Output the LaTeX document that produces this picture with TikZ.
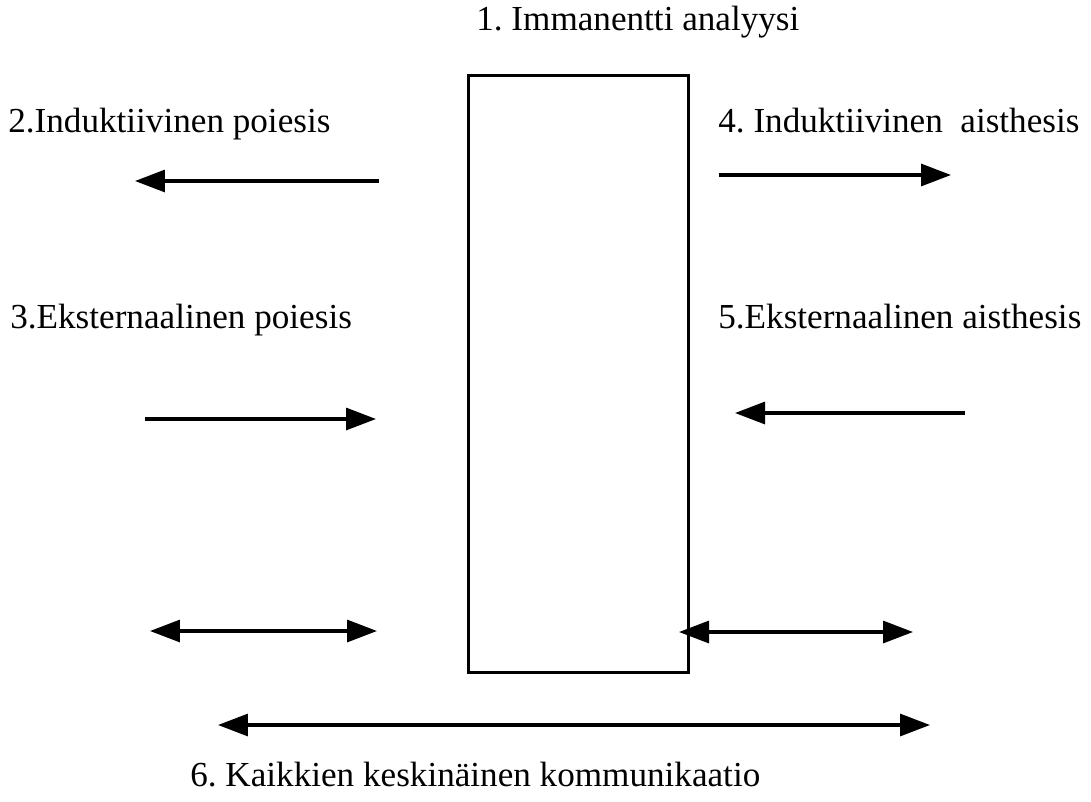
\documentclass[tikz,border=0pt]{standalone}
\usepackage{fontspec}
\setmainfont{Liberation Serif}
\usetikzlibrary{arrows.meta,positioning}
\frenchspacing

\begin{document}
\begin{tikzpicture}[x=0.02cm, y=-0.02cm,
  lbl/.style={font=\fontsize{20}{24}\selectfont, inner sep=0pt, anchor=base west},
  flow/.style={-{Triangle[length=6mm, width=4.4mm]}, line width=1.8pt},
  both/.style={{Triangle[length=6mm, width=4.4mm]}-{Triangle[length=6mm, width=4.4mm]}, line width=1.8pt}]
\useasboundingbox (0,0) rectangle (1091,801);
\node[draw, line width=1.8pt, minimum width=4.4cm, minimum height=11.94cm, anchor=north west] (box) at (467,74) {};
\node[lbl] (t1) at (476,31) {1. Immanentti analyysi};
\node[lbl] (t2) at (8,132) {2.Induktiivinen poiesis};
\node[lbl] (t4) at (718,132) {4. Induktiivinen\ \ aisthesis};
\node[lbl] (t3) at (10,328) {3.Eksternaalinen poiesis};
\node[lbl] (t5) at (718,328) {5.Eksternaalinen aisthesis};
\node[lbl] (t6) at (190,786) {6. Kaikkien keskinäinen kommunikaatio};
% arrow ends
\coordinate (a2s) at (379,181); \coordinate (a2e) at (135,181);
\coordinate (a4s) at (719,175); \coordinate (a4e) at (951,175);
\coordinate (a3s) at (145,419); \coordinate (a3e) at (376,419);
\coordinate (a5s) at (965,413); \coordinate (a5e) at (735,413);
\coordinate (b1s) at (150,631); \coordinate (b1e) at (377,631);
\coordinate (b2s) at (679,632); \coordinate (b2e) at (913,632);
\coordinate (b3s) at (218,725); \coordinate (b3e) at (930,725);
\draw[flow] (a2s) -- (a2e);
\draw[flow] (a4s) -- (a4e);
\draw[flow] (a3s) -- (a3e);
\draw[flow] (a5s) -- (a5e);
\draw[both] (b1s) -- (b1e);
\draw[both] (b2s) -- (b2e);
\draw[both] (b3s) -- (b3e);
\end{tikzpicture}
\end{document}
